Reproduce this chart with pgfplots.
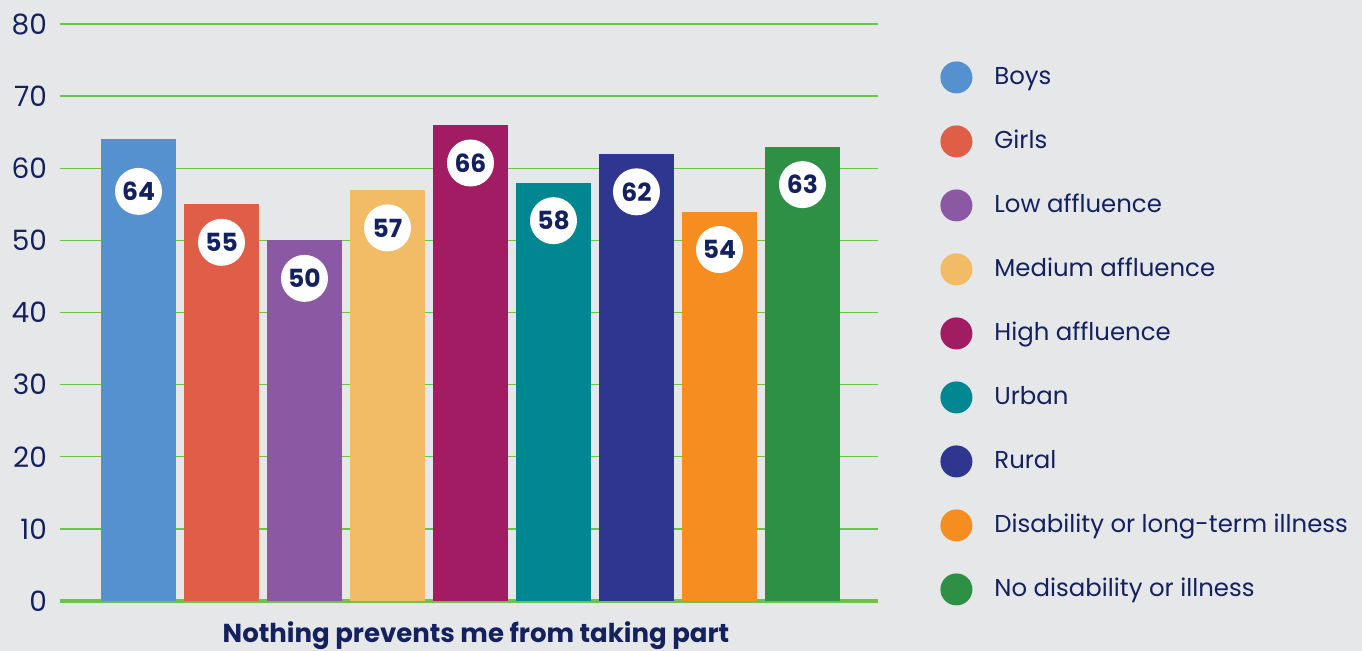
\documentclass[border=0pt]{standalone}
\usepackage{fontspec}
\setmainfont{Poppins}
\usepackage{pgfplots}
\pgfplotsset{compat=1.18}
\definecolor{bg}{HTML}{E6E7E9}
\definecolor{navy}{HTML}{14215F}
\definecolor{gridgreen}{HTML}{6CC24A}
\definecolor{cBoys}{HTML}{5591CE}
\definecolor{cGirls}{HTML}{E05E47}
\definecolor{cLow}{HTML}{8B59A3}
\definecolor{cMed}{HTML}{F2BC66}
\definecolor{cHigh}{HTML}{A21C63}
\definecolor{cUrban}{HTML}{008791}
\definecolor{cRural}{HTML}{2E3690}
\definecolor{cDis}{HTML}{F68D21}
\definecolor{cNoDis}{HTML}{2E9044}
\begin{document}
\begin{tikzpicture}
\fill[bg] (-30pt,-25pt) rectangle (651pt,300.5pt);
\useasboundingbox (-30pt,-25pt) rectangle (651pt,300.5pt);
\begin{axis}[at={(0,0)}, anchor=south west, scale only axis,
  width=409pt, height=288.5pt,
  xmin=-0.946, xmax=8.91, ymin=0, ymax=80,
  ytick={10,20,...,80},
  extra y ticks={0},
  extra y tick style={grid style={gridgreen, line width=1.6pt}},
  ymajorgrids, grid style={gridgreen, line width=0.7pt},
  axis line style={draw=none},
  xtick=\empty, major tick length=0pt,
  /pgf/number format/assume math mode=true,
  yticklabel style={font=\fontsize{14}{16}\selectfont, text=navy, anchor=east, xshift=-3pt},
  ybar, bar width=37.5pt, bar shift=0pt,
  every axis plot/.append style={draw=none},
  nodes near coords,
  nodes near coords style={circle, fill=white, inner sep=0pt, minimum size=23.5pt,
    font=\fontsize{12.5}{13}\selectfont\bfseries, text=navy, anchor=center, yshift=-19pt},
  xlabel={\bfseries Nothing prevents me from taking part},
  xlabel style={at={(axis description cs:0.5,0)}, anchor=center, yshift=-17.5pt, xshift=3.5pt,
    font=\fontsize{13}{14}\selectfont, text=navy},
  legend image code/.code={\fill[#1,draw=none] (8pt,0pt) circle (8pt);},
  legend cell align=left,
  legend style={at={(axis description cs:1.0758,0.9116)}, anchor=north west, yshift=7pt,
    draw=none, fill=none, inner sep=0pt,
    font=\fontsize{12.2}{14}\selectfont, text=navy,
    nodes={inner sep=0pt, text height=10pt, text depth=3pt},
    row sep=16pt, column sep=11pt},
]
\addplot[fill=cBoys, nodes near coords style={yshift=-7pt}] coordinates {(0,64)};
\addlegendentry{Boys}
\addplot[fill=cGirls] coordinates {(1,55)};
\addlegendentry{Girls}
\addplot[fill=cLow] coordinates {(2,50)};
\addlegendentry{Low affluence}
\addplot[fill=cMed] coordinates {(3,57)};
\addlegendentry{Medium affluence}
\addplot[fill=cHigh] coordinates {(4,66)};
\addlegendentry{High affluence}
\addplot[fill=cUrban] coordinates {(5,58)};
\addlegendentry{Urban}
\addplot[fill=cRural] coordinates {(6,62)};
\addlegendentry{Rural}
\addplot[fill=cDis] coordinates {(7,54)};
\addlegendentry{Disability or long-term illness}
\addplot[fill=cNoDis] coordinates {(8,63)};
\addlegendentry{No disability or illness}
\end{axis}
\end{tikzpicture}
\end{document}
